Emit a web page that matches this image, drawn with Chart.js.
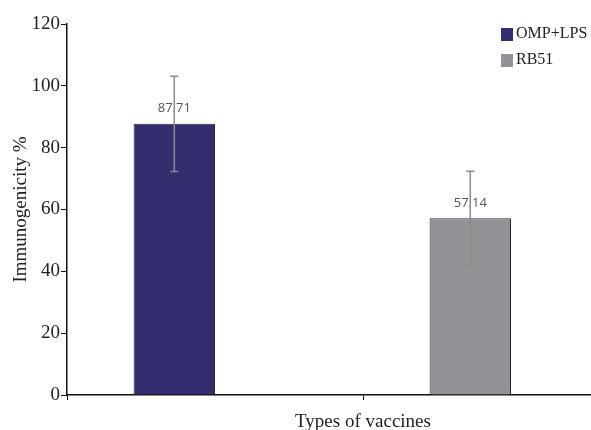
<!DOCTYPE html>
<html>
<head>
<meta charset="utf-8">
<script src="https://cdn.jsdelivr.net/npm/chart.js@4.4.1/dist/chart.umd.min.js"></script>
<style>
  html, body { margin: 0; padding: 0; background: #fff; overflow: hidden; }
  .wrap { position: relative; width: 670px; height: 430px; }
</style>
</head>
<body>
<div class="wrap"><canvas id="chart"></canvas></div>
<script>
// values
const categories = ['', ''];
const seriesNames = ['OMP+LPS', 'RB51'];
const ompValues = [87.71, null];
const rbValues = [null, 57.14];
const ompErrors = [15.4, null];
const rbErrors = [null, 15.2];
const yTicks = [0, 20, 40, 60, 80, 100, 120];

const serif = "'Liberation Serif', 'Times New Roman', serif";
const navy = '#332e6f';
const grey = '#939397';

// error bars + value labels on top of bars
const errorBars = {
  id: 'errorBars',
  afterDatasetsDraw(chart) {
    const c = chart.ctx;
    const y = chart.scales.y;
    const errs = [ompErrors, rbErrors];
    [0, 1].forEach(function (d) {
      const meta = chart.getDatasetMeta(d);
      const vals = chart.data.datasets[d].data;
      meta.data.forEach(function (bar, i) {
        const v = vals[i];
        if (v == null) return;
        const e = errs[d][i];
        // label
        c.save();
        c.font = "13px 'Open Sans', 'DejaVu Sans', sans-serif";
        c.fillStyle = '#555';
        c.textAlign = 'center';
        c.textBaseline = 'middle';
        c.fillText(v.toFixed(2), bar.x, bar.y - 15.5);
        // whisker
        const top = y.getPixelForValue(v + e);
        const bot = y.getPixelForValue(v - e);
        c.strokeStyle = '#8a8a8a';
        c.lineWidth = 1.5;
        c.beginPath();
        c.moveTo(bar.x, top); c.lineTo(bar.x, bot);
        c.moveTo(bar.x - 4, top); c.lineTo(bar.x + 4, top);
        c.moveTo(bar.x - 4, bot); c.lineTo(bar.x + 4, bot);
        c.stroke();
        c.restore();
      });
    });
  }
};

// legend sitting in the top right of the visible page
const boxLegend = {
  id: 'boxLegend',
  afterDraw(chart) {
    const c = chart.ctx;
    const cols = [navy, grey];
    c.save();
    c.font = '16px ' + serif;
    c.textBaseline = 'middle';
    c.textAlign = 'left';
    seriesNames.forEach(function (name, i) {
      const ty = 34 + i * 26;
      c.fillStyle = cols[i];
      c.fillRect(501, ty - 6, 12, 13);
      c.fillStyle = '#222';
      c.fillText(name, 516, ty);
    });
    c.restore();
  }
};

new Chart(document.getElementById('chart'), {
  type: 'bar',
  data: {
    labels: categories,
    datasets: [
      { label: seriesNames[0], data: ompValues, backgroundColor: navy, borderColor: '#2a2a2a', borderWidth: 1, stack: 'a' },
      { label: seriesNames[1], data: rbValues, backgroundColor: grey, borderColor: '#2a2a2a', borderWidth: 1, stack: 'a' },
      { label: 'spacer', data: [null, null], stack: 'b' }
    ]
  },
  options: {
    responsive: true,
    maintainAspectRatio: false,
    animation: false,
    categoryPercentage: 0.55,
    barPercentage: 1.0,
    layout: { padding: { top: 24, right: 11, bottom: 0, left: 0 } },
    plugins: {
      legend: { display: false },
      tooltip: { enabled: false }
    },
    scales: {
      x: {
        afterFit(s) { s.height = 35; },
        border: { color: '#111', width: 1.5 },
        grid: { drawOnChartArea: false, tickLength: 5, color: '#111', offset: true },
        ticks: { display: false },
        title: {
          display: true,
          text: 'Types of vaccines',
          color: '#222',
          font: { family: serif, size: 19, lineHeight: 0.8 },
          padding: { top: 0, bottom: 0 }
        }
      },
      y: {
        stacked: false,
        min: 0,
        max: 120,
        afterFit(s) { s.width = 67; },
        afterBuildTicks(s) { s.ticks = yTicks.map(v => ({ value: v })); },
        border: { color: '#111', width: 1.5 },
        grid: { drawOnChartArea: false, tickLength: 6, color: '#111' },
        ticks: {
          padding: 1,
          color: '#222',
          font: { family: serif, size: 19 }
        },
        title: {
          display: true,
          text: 'Immunogenicity %',
          color: '#222',
          font: { family: serif, size: 19, lineHeight: 1.2 },
          padding: { top: 10, bottom: 0 }
        }
      }
    }
  },
  plugins: [errorBars, boxLegend]
});
</script>
</body>
</html>
